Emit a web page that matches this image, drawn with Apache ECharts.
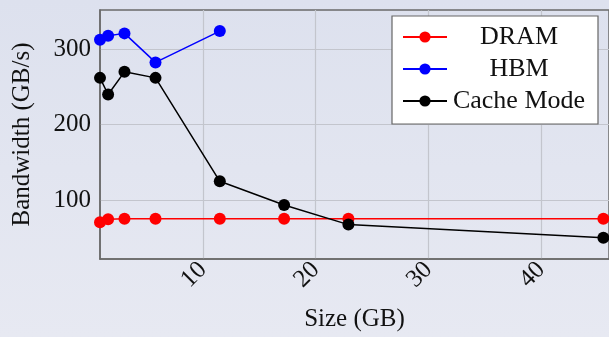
<!DOCTYPE html>
<html>
<head>
<meta charset="utf-8">
<script src="https://cdn.jsdelivr.net/npm/echarts@6/dist/echarts.min.js"></script>
<style>
html,body{margin:0;padding:0;background:#e1e4ef;}
#c{width:609px;height:337px;}
</style>
</head>
<body>
<div id="c"></div>
<script>
var sizes = [0.88, 1.6, 3.05, 5.8, 11.5, 17.2, 22.9, 45.5];
var hbmSizes = [0.88, 1.6, 3.05, 5.8, 11.5];
var dram = [70.4, 74.5, 75.3, 75.3, 75.3, 75.3, 75.3, 75.3];
var hbm = [312.5, 318, 321, 282.5, 324];
var cacheMode = [262, 240, 270, 262, 124.8, 93.5, 67.4, 50];
var xTicks = [10, 20, 30, 40];
var yTicks = [100, 200, 300];
var seriesNames = ['DRAM', 'HBM', 'Cache Mode'];

function pairs(xs, ys) { return xs.map(function (x, i) { return [x, ys[i]]; }); }

var font = 'Liberation Serif';
var chart = echarts.init(document.getElementById('c'), null, {renderer: 'canvas'});
var colors = ['#ff0000', '#0000ff', '#000000'];
var datas = [pairs(sizes, dram), pairs(hbmSizes, hbm), pairs(sizes, cacheMode)];

chart.setOption({
  animation: false,
  backgroundColor: {
    type: 'linear', x: 0, y: 0, x2: 0, y2: 1,
    colorStops: [{offset: 0, color: '#dde1ee'}, {offset: 1, color: '#e7e9f2'}]
  },
  grid: {
    left: 100, top: 10, width: 511.3, height: 253.3,
    show: true, borderColor: '#6a6a6a', borderWidth: 1.5, backgroundColor: 'transparent'
  },
  legend: {
    data: seriesNames,
    orient: 'vertical',
    left: 392, top: 16,
    padding: [8, 12, 10, 10],
    itemWidth: 44, itemHeight: 14,
    itemGap: 6,
    itemTextGap: 6,
    backgroundColor: '#ffffff',
    borderColor: '#666666',
    borderWidth: 1.2,
    borderRadius: 0,
    formatter: function (n) { return '{a|' + n + '}'; },
    textStyle: {
      fontFamily: font, fontSize: 26, color: '#111',
      rich: { a: { width: 134, align: 'center', fontFamily: font, fontSize: 26, color: '#111', lineHeight: 25 } }
    }
  },
  xAxis: {
    type: 'value',
    min: 0.88, max: 46,
    name: 'Size (GB)',
    nameLocation: 'middle',
    nameGap: 48,
    nameTextStyle: {fontFamily: font, fontSize: 25, color: '#111'},
    axisLine: {show: true, onZero: false, lineStyle: {color: '#6a6a6a', width: 1.5}},
    axisTick: {show: false, customValues: xTicks},
    axisLabel: {customValues: xTicks, rotate: 45, margin: 7, fontFamily: font, fontSize: 25, color: '#111'},
    splitLine: {show: true, lineStyle: {color: '#c3c5cd', width: 1.2}}
  },
  yAxis: {
    type: 'value',
    min: 21.8, max: 352,
    name: 'Bandwidth (GB/s)',
    nameLocation: 'middle',
    nameRotate: 90,
    nameGap: 65,
    nameTextStyle: {fontFamily: font, fontSize: 25, color: '#111'},
    axisLine: {show: true, onZero: false, lineStyle: {color: '#6a6a6a', width: 1.5}},
    axisTick: {show: false, customValues: yTicks},
    axisLabel: {customValues: yTicks, margin: 9, fontFamily: font, fontSize: 25, color: '#111'},
    splitLine: {show: true, lineStyle: {color: '#c3c5cd', width: 1.2}}
  },
  series: seriesNames.map(function (n, i) {
    return {
      name: n, type: 'line', data: datas[i],
      symbol: 'circle', symbolSize: 12,
      itemStyle: {color: colors[i]},
      lineStyle: {color: colors[i], width: 1.5},
      clip: true
    };
  })
});
</script>
</body>
</html>
